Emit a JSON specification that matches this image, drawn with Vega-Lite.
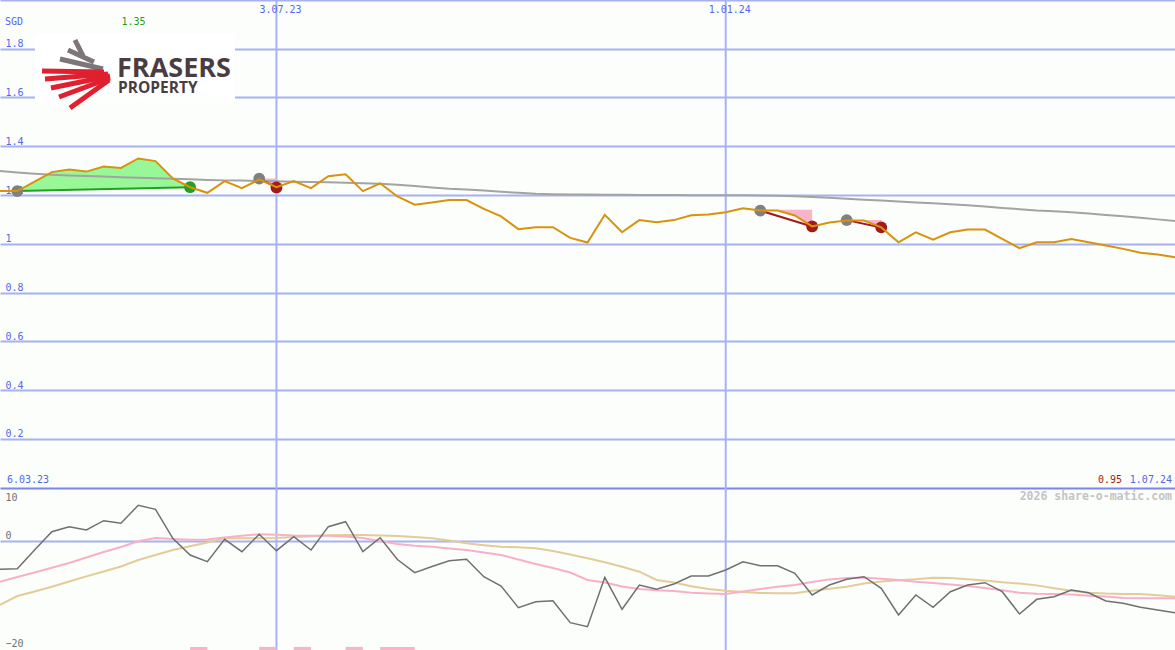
{
  "$schema": "https://vega.github.io/schema/vega-lite/v6.json",
  "width": 1175,
  "height": 650,
  "autosize": "none",
  "padding": 0,
  "background": "#fbfefb",
  "config": {
    "view": {"stroke": null},
    "axis": {"domain": false, "ticks": false, "tickSize": 0, "labelFont": "DejaVu Sans Mono", "labelFontSize": 10, "labelOverlap": false, "labelFlush": false, "labelBound": false, "gridWidth": 2, "gridColor": "#a8b2f2", "gridOpacity": 1}
  },
  "datasets": {
    "weekly": [
      {"date": "2023-03-13", "price": 1.216, "ma": 1.298, "osc": -5.33, "pink": -7.63, "tan": -11.94},
      {"date": "2023-03-20", "price": 1.216, "ma": 1.292, "osc": -5.22, "pink": -6.76, "tan": -10.28},
      {"date": "2023-03-27", "price": 1.255, "ma": 1.287, "osc": -1.76, "pink": -5.93, "tan": -9.44},
      {"date": "2023-04-03", "price": 1.294, "ma": 1.283, "osc": 1.63, "pink": -5.06, "tan": -8.57},
      {"date": "2023-04-10", "price": 1.305, "ma": 1.28, "osc": 2.56, "pink": -4.17, "tan": -7.59},
      {"date": "2023-04-17", "price": 1.296, "ma": 1.278, "osc": 1.94, "pink": -3.15, "tan": -6.65},
      {"date": "2023-04-24", "price": 1.317, "ma": 1.276, "osc": 3.67, "pink": -2.13, "tan": -5.74},
      {"date": "2023-05-01", "price": 1.311, "ma": 1.273, "osc": 3.19, "pink": -1.2, "tan": -4.81},
      {"date": "2023-05-08", "price": 1.35, "ma": 1.271, "osc": 6.52, "pink": -0.15, "tan": -3.61},
      {"date": "2023-05-15", "price": 1.339, "ma": 1.269, "osc": 5.78, "pink": 0.46, "tan": -2.69},
      {"date": "2023-05-22", "price": 1.268, "ma": 1.267, "osc": 0.41, "pink": 0.28, "tan": -1.76},
      {"date": "2023-05-29", "price": 1.232, "ma": 1.265, "osc": -2.69, "pink": 0.15, "tan": -1.06},
      {"date": "2023-06-05", "price": 1.209, "ma": 1.262, "osc": -3.93, "pink": 0.19, "tan": -0.37},
      {"date": "2023-06-12", "price": 1.257, "ma": 1.26, "osc": 0.22, "pink": 0.56, "tan": 0.41},
      {"date": "2023-06-19", "price": 1.228, "ma": 1.259, "osc": -2.07, "pink": 0.89, "tan": 0.41},
      {"date": "2023-06-26", "price": 1.264, "ma": 1.257, "osc": 1.15, "pink": 1.15, "tan": 0.41},
      {"date": "2023-07-03", "price": 1.232, "ma": 1.256, "osc": -1.89, "pink": 1.06, "tan": 0.46},
      {"date": "2023-07-10", "price": 1.257, "ma": 1.254, "osc": 0.7, "pink": 0.93, "tan": 0.65},
      {"date": "2023-07-17", "price": 1.228, "ma": 1.253, "osc": -1.76, "pink": 0.89, "tan": 0.8},
      {"date": "2023-07-24", "price": 1.277, "ma": 1.252, "osc": 2.56, "pink": 0.89, "tan": 0.96},
      {"date": "2023-07-31", "price": 1.285, "ma": 1.25, "osc": 3.48, "pink": 0.74, "tan": 1.02},
      {"date": "2023-08-07", "price": 1.216, "ma": 1.248, "osc": -2.07, "pink": 0.46, "tan": 1.02},
      {"date": "2023-08-14", "price": 1.248, "ma": 1.246, "osc": 0.52, "pink": -0.15, "tan": 0.93},
      {"date": "2023-08-21", "price": 1.194, "ma": 1.242, "osc": -3.52, "pink": -0.65, "tan": 0.83},
      {"date": "2023-08-28", "price": 1.16, "ma": 1.237, "osc": -5.96, "pink": -0.96, "tan": 0.65},
      {"date": "2023-09-04", "price": 1.169, "ma": 1.231, "osc": -4.81, "pink": -1.15, "tan": 0.41},
      {"date": "2023-09-11", "price": 1.179, "ma": 1.226, "osc": -3.74, "pink": -1.48, "tan": 0.0},
      {"date": "2023-09-18", "price": 1.179, "ma": 1.223, "osc": -3.48, "pink": -1.76, "tan": -0.52},
      {"date": "2023-09-25", "price": 1.143, "ma": 1.218, "osc": -6.7, "pink": -2.22, "tan": -0.87},
      {"date": "2023-10-02", "price": 1.112, "ma": 1.213, "osc": -8.43, "pink": -2.69, "tan": -1.15},
      {"date": "2023-10-09", "price": 1.06, "ma": 1.209, "osc": -12.44, "pink": -3.52, "tan": -1.24},
      {"date": "2023-10-16", "price": 1.068, "ma": 1.205, "osc": -11.33, "pink": -4.35, "tan": -1.43},
      {"date": "2023-10-23", "price": 1.068, "ma": 1.203, "osc": -11.15, "pink": -5.09, "tan": -1.94},
      {"date": "2023-10-30", "price": 1.024, "ma": 1.202, "osc": -15.22, "pink": -5.93, "tan": -2.61},
      {"date": "2023-11-06", "price": 1.005, "ma": 1.202, "osc": -15.96, "pink": -7.31, "tan": -3.3},
      {"date": "2023-11-13", "price": 1.119, "ma": 1.201, "osc": -6.81, "pink": -7.78, "tan": -4.02},
      {"date": "2023-11-20", "price": 1.047, "ma": 1.201, "osc": -12.74, "pink": -8.52, "tan": -4.87},
      {"date": "2023-11-27", "price": 1.097, "ma": 1.2, "osc": -8.24, "pink": -8.98, "tan": -5.78},
      {"date": "2023-12-04", "price": 1.088, "ma": 1.2, "osc": -9.04, "pink": -9.22, "tan": -7.31},
      {"date": "2023-12-11", "price": 1.097, "ma": 1.2, "osc": -8.06, "pink": -9.35, "tan": -7.78},
      {"date": "2023-12-18", "price": 1.117, "ma": 1.199, "osc": -6.57, "pink": -9.67, "tan": -8.46},
      {"date": "2023-12-25", "price": 1.12, "ma": 1.199, "osc": -6.57, "pink": -9.81, "tan": -8.98},
      {"date": "2024-01-01", "price": 1.129, "ma": 1.199, "osc": -5.46, "pink": -9.91, "tan": -9.3},
      {"date": "2024-01-08", "price": 1.146, "ma": 1.199, "osc": -3.93, "pink": -9.44, "tan": -9.54},
      {"date": "2024-01-15", "price": 1.136, "ma": 1.198, "osc": -4.67, "pink": -8.98, "tan": -9.7},
      {"date": "2024-01-22", "price": 1.136, "ma": 1.197, "osc": -4.67, "pink": -8.57, "tan": -9.78},
      {"date": "2024-01-29", "price": 1.116, "ma": 1.195, "osc": -6.07, "pink": -8.22, "tan": -9.78},
      {"date": "2024-02-05", "price": 1.071, "ma": 1.192, "osc": -10.09, "pink": -7.69, "tan": -9.3},
      {"date": "2024-02-12", "price": 1.087, "ma": 1.189, "osc": -8.24, "pink": -7.2, "tan": -8.93},
      {"date": "2024-02-19", "price": 1.095, "ma": 1.185, "osc": -7.19, "pink": -6.96, "tan": -8.56},
      {"date": "2024-02-26", "price": 1.095, "ma": 1.181, "osc": -6.7, "pink": -6.85, "tan": -7.98},
      {"date": "2024-03-04", "price": 1.067, "ma": 1.177, "osc": -8.85, "pink": -7.09, "tan": -7.61},
      {"date": "2024-03-11", "price": 1.006, "ma": 1.173, "osc": -13.8, "pink": -7.31, "tan": -7.37},
      {"date": "2024-03-18", "price": 1.047, "ma": 1.169, "osc": -10.09, "pink": -7.65, "tan": -7.17},
      {"date": "2024-03-25", "price": 1.017, "ma": 1.166, "osc": -12.37, "pink": -7.87, "tan": -6.89},
      {"date": "2024-04-01", "price": 1.047, "ma": 1.162, "osc": -9.48, "pink": -8.15, "tan": -6.94},
      {"date": "2024-04-08", "price": 1.058, "ma": 1.158, "osc": -8.24, "pink": -8.43, "tan": -7.17},
      {"date": "2024-04-15", "price": 1.058, "ma": 1.153, "osc": -7.81, "pink": -8.8, "tan": -7.41},
      {"date": "2024-04-22", "price": 1.02, "ma": 1.147, "osc": -9.48, "pink": -9.22, "tan": -7.74},
      {"date": "2024-04-29", "price": 0.982, "ma": 1.142, "osc": -13.61, "pink": -9.69, "tan": -7.98},
      {"date": "2024-05-06", "price": 1.006, "ma": 1.136, "osc": -10.89, "pink": -9.85, "tan": -8.31},
      {"date": "2024-05-13", "price": 1.006, "ma": 1.133, "osc": -10.41, "pink": -9.91, "tan": -8.83},
      {"date": "2024-05-20", "price": 1.019, "ma": 1.129, "osc": -9.17, "pink": -10.0, "tan": -9.31},
      {"date": "2024-05-27", "price": 1.006, "ma": 1.124, "osc": -9.67, "pink": -10.22, "tan": -9.67},
      {"date": "2024-06-03", "price": 0.993, "ma": 1.118, "osc": -11.2, "pink": -10.39, "tan": -9.83},
      {"date": "2024-06-10", "price": 0.979, "ma": 1.113, "osc": -11.63, "pink": -10.65, "tan": -9.91},
      {"date": "2024-06-17", "price": 0.963, "ma": 1.107, "osc": -12.37, "pink": -10.7, "tan": -9.91},
      {"date": "2024-06-24", "price": 0.956, "ma": 1.1, "osc": -12.87, "pink": -10.7, "tan": -10.15},
      {"date": "2024-07-01", "price": 0.945, "ma": 1.093, "osc": -13.37, "pink": -10.7, "tan": -10.41}
    ],
    "gain": [
      {"date": "2023-03-20", "price": 1.216, "base": 1.216},
      {"date": "2023-03-27", "price": 1.255, "base": 1.218},
      {"date": "2023-04-03", "price": 1.294, "base": 1.22},
      {"date": "2023-04-10", "price": 1.305, "base": 1.221},
      {"date": "2023-04-17", "price": 1.296, "base": 1.222},
      {"date": "2023-04-24", "price": 1.317, "base": 1.224},
      {"date": "2023-05-01", "price": 1.311, "base": 1.226},
      {"date": "2023-05-08", "price": 1.35, "base": 1.228},
      {"date": "2023-05-15", "price": 1.339, "base": 1.23},
      {"date": "2023-05-22", "price": 1.268, "base": 1.231},
      {"date": "2023-05-29", "price": 1.232, "base": 1.232}
    ],
    "loss": [
      {"trade": "A", "date": "2023-06-26", "price": 1.264, "top": 1.268},
      {"trade": "A", "date": "2023-07-03", "price": 1.232, "top": 1.268},
      {"trade": "B", "date": "2024-01-15", "price": 1.136, "top": 1.139},
      {"trade": "B", "date": "2024-01-22", "price": 1.136, "top": 1.139},
      {"trade": "B", "date": "2024-01-29", "price": 1.116, "top": 1.139},
      {"trade": "B", "date": "2024-02-05", "price": 1.071, "top": 1.139},
      {"trade": "C", "date": "2024-02-19", "price": 1.095, "top": 1.097},
      {"trade": "C", "date": "2024-02-26", "price": 1.095, "top": 1.097},
      {"trade": "C", "date": "2024-03-04", "price": 1.067, "top": 1.097}
    ],
    "trades": [
      {"trade": "G", "date": "2023-03-20", "price": 1.216, "marker": "entry", "result": "gain"},
      {"trade": "G", "date": "2023-05-29", "price": 1.232, "marker": "gain", "result": "gain"},
      {"trade": "A", "date": "2023-06-26", "price": 1.267, "marker": "entry", "result": "loss"},
      {"trade": "A", "date": "2023-07-03", "price": 1.231, "marker": "loss", "result": "loss"},
      {"trade": "B", "date": "2024-01-15", "price": 1.136, "marker": "entry", "result": "loss"},
      {"trade": "B", "date": "2024-02-05", "price": 1.071, "marker": "loss", "result": "loss"},
      {"trade": "C", "date": "2024-02-19", "price": 1.097, "marker": "entry", "result": "loss"},
      {"trade": "C", "date": "2024-03-04", "price": 1.067, "marker": "loss", "result": "loss"}
    ],
    "gridx": [
      {"date": "2023-07-03", "label": "3.07.23"},
      {"date": "2024-01-01", "label": "1.01.24"}
    ],
    "bars": [
      {"date": "2023-05-29", "date2": "2023-06-05"},
      {"date": "2023-06-26", "date2": "2023-07-03"},
      {"date": "2023-07-10", "date2": "2023-07-17"},
      {"date": "2023-07-31", "date2": "2023-08-07"},
      {"date": "2023-08-14", "date2": "2023-08-28"}
    ],
    "logobox": [
      {"date": "2023-03-27T04:00:00Z", "date2": "2023-06-16T05:00:00Z", "value": 1.86, "value2": 1.58}
    ],
    "logo": [
      {"part": "gray", "date": "2023-04-12T09:10:00Z", "value": 1.8359, "date2": "2023-04-15T15:00:00Z", "value2": 1.7703},
      {"part": "gray", "date": "2023-04-09T13:05:00Z", "value": 1.7949, "date2": "2023-04-20T01:55:00Z", "value2": 1.7456},
      {"part": "gray", "date": "2023-04-06T07:20:00Z", "value": 1.758, "date2": "2023-04-23T17:25:00Z", "value2": 1.7169},
      {"part": "red", "date": "2023-03-30T00:20:00Z", "value": 1.7087, "date2": "2023-04-24T03:05:00Z", "value2": 1.7046},
      {"part": "red", "date": "2023-03-31T05:30:00Z", "value": 1.6759, "date2": "2023-04-25T18:00:00Z", "value2": 1.6964},
      {"part": "red", "date": "2023-04-02T15:50:00Z", "value": 1.639, "date2": "2023-04-26T13:30:00Z", "value2": 1.6882},
      {"part": "red", "date": "2023-04-05T21:35:00Z", "value": 1.6021, "date2": "2023-04-26T13:30:00Z", "value2": 1.68},
      {"part": "red", "date": "2023-04-10T08:35:00Z", "value": 1.5569, "date2": "2023-04-26T03:50:00Z", "value2": 1.6718}
    ],
    "notes": [
      {"text": "SGD", "group": "blueleft", "date": "2023-03-15T00:45:00Z", "value": 1.897},
      {"text": "6.03.23", "group": "blueleft", "date": "2023-03-15T20:00:00Z", "value": 0.0185},
      {"text": "1.35", "group": "max", "date": "2023-05-06T02:00:00Z", "value": 1.897},
      {"text": "1.07.24", "group": "blueright", "date": "2024-06-29T18:40:00Z", "value": 0.0185},
      {"text": "0.95", "group": "last", "date": "2024-06-09T12:40:00Z", "value": 0.0185},
      {"text": "FRASERS", "group": "logo1", "date": "2023-04-29T09:36:00Z", "value": 1.686},
      {"text": "PROPERTY", "group": "logo2", "date": "2023-04-29T19:00:00Z", "value": 1.6185},
      {"text": "2026 share-o-matic.com", "group": "credit", "date": "2024-06-29T18:40:00Z", "value": 7.5}
    ]
  },
  "layer": [
    {
      "data": {"name": "gridx"},
      "mark": {"type": "rule", "color": "#a8b2f2", "strokeWidth": 2},
      "encoding": {
        "x": {"field": "date", "type": "temporal", "scale": {"type": "utc", "domain": [{"year": 2023, "month": 3, "date": 13, "utc": true}, {"year": 2024, "month": 7, "date": 1, "utc": true}]}, "axis": null}
      }
    },
    {
      "data": {"name": "gridx"},
      "mark": {"type": "text", "align": "center", "baseline": "alphabetic", "dx": 4, "font": "DejaVu Sans Mono", "fontSize": 10, "color": "#5566ee"},
      "encoding": {
        "x": {"field": "date", "type": "temporal", "scale": {"type": "utc"}, "axis": null},
        "y": {"datum": 1.9467, "type": "quantitative", "scale": {"domain": [0, 2], "range": [487.5, 0], "nice": false, "zero": false}, "axis": null},
        "text": {"field": "label"}
      }
    },
    {
      "data": {"name": "logobox"},
      "mark": {"type": "rect", "color": "#ffffff"},
      "encoding": {
        "x": {"field": "date", "type": "temporal", "scale": {"type": "utc"}, "axis": null},
        "x2": {"field": "date2"},
        "y": {"field": "value", "type": "quantitative", "scale": {"domain": [0, 2], "range": [487.5, 0], "nice": false, "zero": false}, "axis": null},
        "y2": {"field": "value2"}
      }
    },
    {
      "data": {"name": "logo"},
      "mark": {"type": "rule", "strokeWidth": 5, "strokeCap": "butt"},
      "encoding": {
        "x": {"field": "date", "type": "temporal", "scale": {"type": "utc"}, "axis": null},
        "x2": {"field": "date2"},
        "y": {"field": "value", "type": "quantitative", "scale": {"domain": [0, 2], "range": [487.5, 0], "nice": false, "zero": false}, "axis": null},
        "y2": {"field": "value2"},
        "color": {"condition": {"test": "datum.part == 'gray'", "value": "#7d7577"}, "value": "#e0202e"}
      }
    },
    {
      "data": {"name": "notes"},
      "transform": [{"filter": "datum.group == 'logo1'"}],
      "mark": {"type": "text", "align": "left", "baseline": "alphabetic", "font": "Open Sans", "fontWeight": "bold", "fontSize": 27, "color": "#4b3c3f"},
      "encoding": {
        "x": {"field": "date", "type": "temporal", "scale": {"type": "utc"}, "axis": null},
        "y": {"field": "value", "type": "quantitative", "scale": {"domain": [0, 2], "range": [487.5, 0], "nice": false, "zero": false}, "axis": null},
        "text": {"field": "text"}
      }
    },
    {
      "data": {"name": "notes"},
      "transform": [{"filter": "datum.group == 'logo2'"}],
      "mark": {"type": "text", "align": "left", "baseline": "alphabetic", "font": "Open Sans", "fontWeight": "bold", "fontSize": 15.5, "color": "#4b3c3f"},
      "encoding": {
        "x": {"field": "date", "type": "temporal", "scale": {"type": "utc"}, "axis": null},
        "y": {"field": "value", "type": "quantitative", "scale": {"domain": [0, 2], "range": [487.5, 0], "nice": false, "zero": false}, "axis": null},
        "text": {"field": "text"}
      }
    },
    {
      "data": {"name": "gain"},
      "mark": {"type": "area", "color": "#98f898", "opacity": 1},
      "encoding": {
        "x": {"field": "date", "type": "temporal", "scale": {"type": "utc"}, "axis": null},
        "y": {"field": "price", "type": "quantitative", "scale": {"domain": [0, 2], "range": [487.5, 0], "nice": false, "zero": false}, "axis": null},
        "y2": {"field": "base"}
      }
    },
    {
      "data": {"name": "loss"},
      "mark": {"type": "area", "color": "#f8b4c8", "opacity": 1},
      "encoding": {
        "x": {"field": "date", "type": "temporal", "scale": {"type": "utc"}, "axis": null},
        "y": {"field": "top", "type": "quantitative", "scale": {"domain": [0, 2], "range": [487.5, 0], "nice": false, "zero": false}, "axis": null},
        "y2": {"field": "price"},
        "detail": {"field": "trade"}
      }
    },
    {
      "data": {"name": "weekly"},
      "mark": {"type": "line", "color": "#a3a3a3", "strokeWidth": 2},
      "encoding": {
        "x": {"field": "date", "type": "temporal", "scale": {"type": "utc"}, "axis": null},
        "y": {"field": "ma", "type": "quantitative", "scale": {"domain": [0, 2], "range": [487.5, 0], "nice": false, "zero": false}, "axis": null}
      }
    },
    {
      "data": {"name": "trades"},
      "mark": {"type": "line", "strokeWidth": 2},
      "encoding": {
        "x": {"field": "date", "type": "temporal", "scale": {"type": "utc"}, "axis": null},
        "y": {"field": "price", "type": "quantitative", "scale": {"domain": [0, 2], "range": [487.5, 0], "nice": false, "zero": false}, "axis": null},
        "detail": {"field": "trade"},
        "color": {"condition": {"test": "datum.result == 'gain'", "value": "#22a022"}, "value": "#a21a1a"}
      }
    },
    {
      "data": {"name": "trades"},
      "mark": {"type": "circle", "size": 140, "opacity": 1},
      "encoding": {
        "x": {"field": "date", "type": "temporal", "scale": {"type": "utc"}, "axis": null},
        "y": {"field": "price", "type": "quantitative", "scale": {"domain": [0, 2], "range": [487.5, 0], "nice": false, "zero": false}, "axis": null},
        "color": {"condition": [{"test": "datum.marker == 'entry'", "value": "#808080"}, {"test": "datum.marker == 'gain'", "value": "#22a022"}], "value": "#a21a1a"}
      }
    },
    {
      "data": {"name": "weekly"},
      "mark": {"type": "line", "color": "#d9920b", "strokeWidth": 2},
      "encoding": {
        "x": {"field": "date", "type": "temporal", "scale": {"type": "utc"}, "axis": null},
        "y": {
          "field": "price",
          "type": "quantitative",
          "scale": {"domain": [0, 2], "range": [487.5, 0], "nice": false, "zero": false},
          "axis": {
            "orient": "left",
            "title": null,
            "values": [0, 0.2, 0.4, 0.6, 0.8, 1, 1.2, 1.4, 1.6, 1.8, 2],
            "format": "~g",
            "labelExpr": "datum.value == 0 || datum.value == 2 ? '' : datum.label",
            "labelAlign": "left",
            "labelBaseline": "alphabetic",
            "labelPadding": -5,
            "labelOffset": -2,
            "labelColor": "#5566ee",
            "grid": true,
            "gridColor": {"condition": {"test": "datum.value == 0", "value": "#7a86ea"}, "value": "#a8b2f2"}
          }
        }
      }
    },
    {
      "data": {"name": "notes"},
      "transform": [{"filter": "datum.group == 'blueleft'"}],
      "mark": {"type": "text", "align": "left", "baseline": "alphabetic", "font": "DejaVu Sans Mono", "fontSize": 10, "color": "#5566ee"},
      "encoding": {
        "x": {"field": "date", "type": "temporal", "scale": {"type": "utc"}, "axis": null},
        "y": {"field": "value", "type": "quantitative", "scale": {"domain": [0, 2], "range": [487.5, 0], "nice": false, "zero": false}, "axis": null},
        "text": {"field": "text"}
      }
    },
    {
      "data": {"name": "notes"},
      "transform": [{"filter": "datum.group == 'max'"}],
      "mark": {"type": "text", "align": "center", "baseline": "alphabetic", "font": "DejaVu Sans Mono", "fontSize": 10, "color": "#22a022"},
      "encoding": {
        "x": {"field": "date", "type": "temporal", "scale": {"type": "utc"}, "axis": null},
        "y": {"field": "value", "type": "quantitative", "scale": {"domain": [0, 2], "range": [487.5, 0], "nice": false, "zero": false}, "axis": null},
        "text": {"field": "text"}
      }
    },
    {
      "data": {"name": "notes"},
      "transform": [{"filter": "datum.group == 'blueright'"}],
      "mark": {"type": "text", "align": "right", "baseline": "alphabetic", "font": "DejaVu Sans Mono", "fontSize": 10, "color": "#5566ee"},
      "encoding": {
        "x": {"field": "date", "type": "temporal", "scale": {"type": "utc"}, "axis": null},
        "y": {"field": "value", "type": "quantitative", "scale": {"domain": [0, 2], "range": [487.5, 0], "nice": false, "zero": false}, "axis": null},
        "text": {"field": "text"}
      }
    },
    {
      "data": {"name": "notes"},
      "transform": [{"filter": "datum.group == 'last'"}],
      "mark": {"type": "text", "align": "right", "baseline": "alphabetic", "font": "DejaVu Sans Mono", "fontSize": 10, "color": "#a21a1a"},
      "encoding": {
        "x": {"field": "date", "type": "temporal", "scale": {"type": "utc"}, "axis": null},
        "y": {"field": "value", "type": "quantitative", "scale": {"domain": [0, 2], "range": [487.5, 0], "nice": false, "zero": false}, "axis": null},
        "text": {"field": "text"}
      }
    },
    {
      "data": {"name": "bars"},
      "mark": {"type": "rect", "color": "#f8b4c8"},
      "encoding": {
        "x": {"field": "date", "type": "temporal", "scale": {"type": "utc"}, "axis": null},
        "x2": {"field": "date2"},
        "y": {"datum": -19.7, "type": "quantitative", "scale": {"domain": [-20, 10], "range": [648.5, 486.5], "nice": false, "zero": false}, "axis": null},
        "y2": {"datum": -20.5}
      }
    },
    {
      "data": {"name": "weekly"},
      "mark": {"type": "line", "color": "#e4cc98", "strokeWidth": 2},
      "encoding": {
        "x": {"field": "date", "type": "temporal", "scale": {"type": "utc"}, "axis": null},
        "y": {"field": "tan", "type": "quantitative", "scale": {"domain": [-20, 10], "range": [648.5, 486.5], "nice": false, "zero": false}, "axis": null}
      }
    },
    {
      "data": {"name": "weekly"},
      "mark": {"type": "line", "color": "#f8b0c8", "strokeWidth": 2},
      "encoding": {
        "x": {"field": "date", "type": "temporal", "scale": {"type": "utc"}, "axis": null},
        "y": {"field": "pink", "type": "quantitative", "scale": {"domain": [-20, 10], "range": [648.5, 486.5], "nice": false, "zero": false}, "axis": null}
      }
    },
    {
      "data": {"name": "weekly"},
      "mark": {"type": "line", "color": "#707070", "strokeWidth": 1.5},
      "encoding": {
        "x": {"field": "date", "type": "temporal", "scale": {"type": "utc"}, "axis": null},
        "y": {
          "field": "osc",
          "type": "quantitative",
          "scale": {"domain": [-20, 10], "range": [648.5, 486.5], "nice": false, "zero": false},
          "axis": {
            "orient": "left",
            "title": null,
            "values": [10, 0, -20],
            "labelAlign": "left",
            "labelBaseline": "alphabetic",
            "labelPadding": -5,
            "labelOffset": {"condition": {"test": "datum.value == 10", "value": 13.5}, "value": -2.5},
            "labelColor": "#707070",
            "grid": true,
            "gridColor": "#a8b2f2",
            "gridOpacity": {"condition": {"test": "datum.value == 0", "value": 1}, "value": 0}
          }
        }
      }
    },
    {
      "data": {"name": "notes"},
      "transform": [{"filter": "datum.group == 'credit'"}],
      "mark": {"type": "text", "align": "right", "baseline": "alphabetic", "font": "DejaVu Sans Mono", "fontWeight": "bold", "fontSize": 11.5, "color": "#c4c4c4"},
      "encoding": {
        "x": {"field": "date", "type": "temporal", "scale": {"type": "utc"}, "axis": null},
        "y": {"field": "value", "type": "quantitative", "scale": {"domain": [-20, 10], "range": [648.5, 486.5], "nice": false, "zero": false}, "axis": null},
        "text": {"field": "text"}
      }
    }
  ],
  "resolve": {"scale": {"y": "independent"}, "axis": {"y": "independent"}}
}
